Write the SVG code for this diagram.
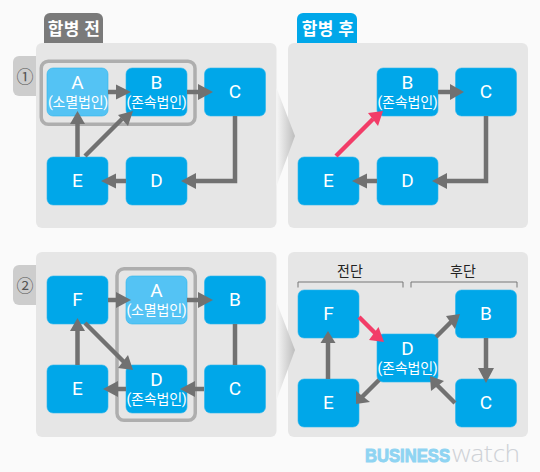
<svg xmlns="http://www.w3.org/2000/svg" width="540" height="472" viewBox="0 0 540 472">
<style>
text{font-family:"Roboto","Noto Sans CJK KR",sans-serif;text-anchor:middle}
.panel{fill:#e6e6e6}
.n{fill:#00a7e9;stroke:#2bb5ec;stroke-width:.6}
.l{fill:#54c3f4}
.t{fill:#fff;font-size:19px}
.t1{fill:#fff;font-size:19px}
.s{fill:#fff;font-size:14px;letter-spacing:-.2px}
.w{fill:none;stroke:#717171;stroke-width:4.500}
.p{fill:none;stroke:#f23d68;stroke-width:4.500}
.ah{fill:#717171}
.ahp{fill:#f23d68}
.box{fill:none;stroke:#aeaeae;stroke-width:3.500}
.side{fill:#cdcdcd}
.num{fill:#555;font-size:17px;font-family:"Noto Sans CJK KR",sans-serif}
.head{fill:#fff;font-size:17px;font-weight:700;letter-spacing:.3px}
.br{fill:none;stroke:#777;stroke-width:1}
.lab{fill:#222;font-size:14px}
</style>
<defs>
<linearGradient id="cg" x1="0" x2="1" y1="0" y2="0"><stop offset="0" stop-color="#f6f6f6"/><stop offset="1" stop-color="#bdbdbd"/></linearGradient>
</defs>
<rect width="540" height="472" fill="#fafafa"/>

<g id="panels">
<path d="M44 43V19a6 6 0 0 1 6-6h47a6 6 0 0 1 6 6v24z" fill="#7a7a7a"/>
<text class="head" x="74" y="35">합병 전</text>
<path d="M297 43V19a6 6 0 0 1 6-6h48a6 6 0 0 1 6 6v24z" fill="#00a7e9"/>
<text class="head" x="328" y="35">합병 후</text>
<path class="side" d="M36 56H19a6 6 0 0 0-6 6v28a6 6 0 0 0 6 6h17z"/>
<path class="side" d="M36 265H19a6 6 0 0 0-6 6v28a6 6 0 0 0 6 6h17z"/>
<text class="num" x="25" y="83">①</text>
<text class="num" x="25" y="292">②</text>
<rect class="panel" x="36" y="43" width="240.500" height="185" rx="6"/>
<rect class="panel" x="288" y="43" width="240" height="185" rx="6"/>
<rect class="panel" x="36" y="252" width="240.500" height="185" rx="6"/>
<rect class="panel" x="288" y="252" width="240" height="185" rx="6"/>
<path d="M276.500 88L295 136L276.500 186z" fill="url(#cg)"/>
<path d="M276.500 302L295 350L276.500 400z" fill="url(#cg)"/>
</g>

<g id="brackets">
<path class="br" d="M298 287.500V282H403V287.500"/>
<path class="br" d="M411 287.500V282H517V287.500"/>
<text class="lab" x="350" y="276">전단</text>
<text class="lab" x="463" y="276">후단</text>
</g>

<g id="p1-before">
<g id="p1-A"><rect class="n l" x="47" y="68" width="61" height="48" rx="6"/><text class="t" x="77.500" y="89">A</text><text class="s" x="78" y="107">(소멸법인)</text></g>
<g id="p1-B"><rect class="n" x="126" y="68" width="61" height="48" rx="6"/><text class="t" x="156.500" y="89">B</text><text class="s" x="156.500" y="107">(존속법인)</text></g>
<g id="p1-C"><rect class="n" x="204.500" y="68" width="61" height="48" rx="6"/><text class="t1" x="235" y="98">C</text></g>
<g id="p1-E"><rect class="n" x="47" y="157" width="61" height="48" rx="6"/><text class="t1" x="77.500" y="187">E</text></g>
<g id="p1-D"><rect class="n" x="126" y="157" width="61" height="48" rx="6"/><text class="t1" x="156.500" y="187">D</text></g>
<rect id="p1-group" class="box" x="41.250" y="61.250" width="153.750" height="63" rx="7"/>
</g>

<g id="p1-after">
<g id="p1r-B"><rect class="n" x="377" y="68" width="61" height="48" rx="6"/><text class="t" x="407.500" y="89">B</text><text class="s" x="407.500" y="107">(존속법인)</text></g>
<g id="p1r-C"><rect class="n" x="455.500" y="68" width="61" height="48" rx="6"/><text class="t1" x="486" y="98">C</text></g>
<g id="p1r-E"><rect class="n" x="298" y="157" width="61" height="48" rx="6"/><text class="t1" x="328.500" y="187">E</text></g>
<g id="p1r-D"><rect class="n" x="377" y="157" width="61" height="48" rx="6"/><text class="t1" x="407.500" y="187">D</text></g>
</g>

<g id="p2-before">
<g id="p2-F"><rect class="n" x="47" y="276" width="61" height="48" rx="6"/><text class="t1" x="77.500" y="306">F</text></g>
<g id="p2-A"><rect class="n l" x="126" y="276" width="61" height="48" rx="6"/><text class="t" x="156.500" y="297">A</text><text class="s" x="156.500" y="315">(소멸법인)</text></g>
<g id="p2-B"><rect class="n" x="204.500" y="276" width="61" height="48" rx="6"/><text class="t1" x="235" y="306">B</text></g>
<g id="p2-E"><rect class="n" x="47" y="365" width="61" height="48" rx="6"/><text class="t1" x="77.500" y="395">E</text></g>
<g id="p2-D"><rect class="n" x="126" y="365" width="61" height="48" rx="6"/><text class="t" x="156.500" y="386">D</text><text class="s" x="156.500" y="404">(존속법인)</text></g>
<g id="p2-C"><rect class="n" x="204.500" y="365" width="61" height="48" rx="6"/><text class="t1" x="235" y="395">C</text></g>
<rect id="p2-group" class="box" x="117" y="268.750" width="78.250" height="151.500" rx="7"/>
</g>

<g id="p2-after">
<g id="p2r-F"><rect class="n" x="298" y="290" width="61" height="48" rx="6"/><text class="t1" x="328.500" y="320">F</text></g>
<g id="p2r-B"><rect class="n" x="455.500" y="290" width="61" height="48" rx="6"/><text class="t1" x="486" y="320">B</text></g>
<g id="p2r-D"><rect class="n" x="377" y="334" width="61" height="48" rx="6"/><text class="t" x="407.500" y="355">D</text><text class="s" x="407.500" y="373">(존속법인)</text></g>
<g id="p2r-E"><rect class="n" x="298" y="379" width="61" height="48" rx="6"/><text class="t1" x="328.500" y="409">E</text></g>
<g id="p2r-C"><rect class="n" x="455.500" y="379" width="61" height="48" rx="6"/><text class="t1" x="486" y="409">C</text></g>
</g>

<g id="connectors">
<path class="w" d="M108 92H118"/><path class="ah" d="M116 84.500L131 92L116 99.500z"/>
<path class="w" d="M187 92H200"/><path class="ah" d="M198 84L213 92L198 100z"/>
<path class="w" d="M235 116V181H195"/><path class="ah" d="M196 173L181 181L196 189z"/>
<path class="w" d="M126 181H114"/><path class="ah" d="M116 173.500L101 181L116 188.500z"/>
<path class="w" d="M77.500 157V122"/><path class="ah" d="M70 124L77.500 111L85 124z"/>
<path class="w" d="M85 156L122 119"/><path class="ah" d="M118 115L133 111L128 126z"/>
<path class="w" d="M438 92H452"/><path class="ah" d="M450 84L464 92L450 100z"/>
<path class="w" d="M486 116V181H446"/><path class="ah" d="M447 173L432 181L447 189z"/>
<path class="w" d="M377 181H365"/><path class="ah" d="M367 173.500L352 181L367 188.500z"/>
<path class="p" d="M336 156L373 119"/><path class="ahp" d="M368 113L383 111L378 126z"/>
<path class="w" d="M108 300H118"/><path class="ah" d="M116 292L131 300L116 308z"/>
<path class="w" d="M187 300H200"/><path class="ah" d="M198 292L213 300L198 308z"/>
<path class="w" d="M235 324V365"/>
<path class="w" d="M204 389H192"/><path class="ah" d="M195 381L180 389L195 397z"/>
<path class="w" d="M126 389H114"/><path class="ah" d="M118 381L103 389L118 397z"/>
<path class="w" d="M77.500 365V330"/><path class="ah" d="M70 331L77.500 318L85 331z"/>
<path class="w" d="M85 323L124 362"/><path class="ah" d="M118 368L133 370L128 355z"/>
<path class="p" d="M359 317L376 334"/><path class="ahp" d="M369 340L384 342L378.500 327z"/>
<path class="w" d="M436 337L451 322"/><path class="ah" d="M446 316L460 314L455 329z"/>
<path class="w" d="M486 338V368"/><path class="ah" d="M478 368L486 383L494 368z"/>
<path class="w" d="M455 403L436 384"/><path class="ah" d="M431 391L430 376L444 381z"/>
<path class="w" d="M379 380L362 397"/><path class="ah" d="M356 391L356 404L370 402z"/>
<path class="w" d="M328 379V340"/><path class="ah" d="M320.500 343L328 331L335.500 343z"/>
</g>

<g id="logo">
<text x="365" y="461.500" style="text-anchor:start;font-family:'Liberation Sans',sans-serif;font-weight:700;font-size:18.500px;fill:#8fd4f2" textLength="85" lengthAdjust="spacingAndGlyphs" stroke="#8fd4f2" stroke-width="1">BUSINESS</text>
<text x="452" y="461.500" style="text-anchor:start;font-family:'Open Sans',sans-serif;font-weight:300;font-size:23px;fill:#cfd2d7" textLength="68" lengthAdjust="spacingAndGlyphs">watch</text>
</g>
</svg>
